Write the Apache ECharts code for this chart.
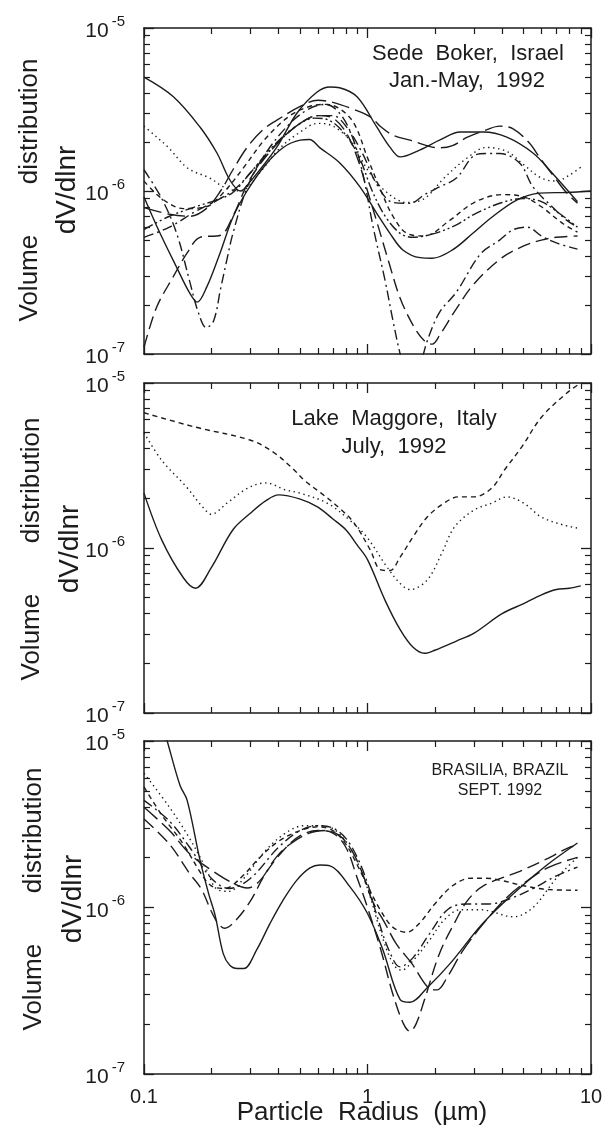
<!DOCTYPE html>
<html>
<head>
<meta charset="utf-8">
<script src="https://cdn.jsdelivr.net/npm/echarts@6/dist/echarts.min.js"></script>
<style>
  html, body { margin: 0; padding: 0; background: #fff; }
  #chart { width: 610px; height: 1132px; }
</style>
</head>
<body>
<div id="chart"></div>
<script>
// Volume size distributions dV/dlnr versus particle radius (um), three sites, 1992.

// ---- Sede Boker, Israel (Jan.-May 1992) ----
const sedeSolidA = [[0.1,5e-6],[0.135,3.8e-6],[0.178,2.47e-6],[0.212,1.71e-6],[0.242,1.17e-6],[0.27,1.0e-6],[0.3,1.15e-6],[0.393,1.86e-6],[0.483,3.0e-6],[0.595,4.05e-6],[0.68,4.35e-6],[0.75,4.3e-6],[0.9,3.77e-6],[1.1,2.47e-6],[1.26,1.86e-6],[1.4,1.62e-6],[1.72,1.79e-6],[2.1,2.05e-6],[2.6,2.3e-6],[3.3,2.3e-6],[4.2,2.14e-6],[5.5,1.71e-6],[6.7,1.29e-6],[8.7,8.6e-7]];
const sedeSolidB = [[0.1,9.2e-7],[0.118,5.5e-7],[0.14,3.4e-7],[0.16,2.37e-7],[0.173,2.08e-7],[0.191,2.58e-7],[0.219,4.17e-7],[0.25,6.9e-7],[0.289,1.0e-6],[0.35,1.45e-6],[0.42,1.85e-6],[0.5,2.05e-6],[0.55,2.07e-6],[0.613,1.84e-6],[0.75,1.49e-6],[0.925,1.06e-6],[1.1,7.3e-7],[1.26,5.5e-7],[1.44,4.35e-7],[1.72,3.9e-7],[1.95,3.87e-7],[2.4,4.35e-7],[2.96,5.5e-7],[3.6,6.9e-7],[4.65,8.8e-7],[5.9,9.7e-7],[7.8,9.8e-7],[10,1.0e-6]];
const sedeDotted = [[0.1,2.5e-6],[0.114,2.14e-6],[0.128,1.86e-6],[0.157,1.38e-6],[0.197,1.2e-6],[0.23,1.05e-6],[0.27,1.0e-6],[0.33,1.3e-6],[0.4,1.8e-6],[0.5,2.3e-6],[0.6,2.6e-6],[0.7,2.5e-6],[0.85,2.0e-6],[1.0,1.35e-6],[1.2,1.0e-6],[1.5,8.5e-7],[1.8,9e-7],[2.2,1.2e-6],[2.8,1.6e-6],[3.4,1.85e-6],[4.2,1.75e-6],[5.0,1.45e-6],[6.0,1.2e-6],[7.0,1.15e-6],[8.0,1.25e-6],[9.0,1.4e-6]];
const sedeDashDotDeep = [[0.1,1.35e-6],[0.12,9e-7],[0.14,5.5e-7],[0.16,2.8e-7],[0.175,1.8e-7],[0.19,1.45e-7],[0.205,1.6e-7],[0.22,2.5e-7],[0.235,3.8e-7],[0.25,5.5e-7],[0.29,1.06e-6],[0.35,1.7e-6],[0.45,2.6e-6],[0.55,3.2e-6],[0.65,3.4e-6],[0.75,3.0e-6],[0.85,2.2e-6],[0.95,1.3e-6],[1.06,6e-7],[1.2,2.8e-7],[1.3,1.6e-7],[1.4,1.0e-7],[1.55,6e-8],[1.7,8e-8],[1.85,1.2e-7],[2.1,1.8e-7],[2.5,2.4e-7],[3.2,4.1e-7],[3.9,5e-7],[4.5,5.8e-7],[5.2,6e-7],[6.0,5.3e-7],[7.0,4.8e-7],[8.7,4.4e-7]];
const sedeLongDashLow = [[0.1,1.1e-7],[0.114,1.94e-7],[0.135,2.97e-7],[0.156,4.17e-7],[0.178,5.2e-7],[0.22,5.35e-7],[0.25,7e-7],[0.3,1.2e-6],[0.4,2.0e-6],[0.5,2.6e-6],[0.6,2.9e-6],[0.7,2.8e-6],[0.8,2.3e-6],[0.9,1.6e-6],[1.0,1.0e-6],[1.1,6.5e-7],[1.25,3.6e-7],[1.4,2.2e-7],[1.6,1.5e-7],[1.8,1.2e-7],[1.95,1.15e-7],[2.1,1.3e-7],[2.5,1.9e-7],[3.0,2.7e-7],[4.0,3.9e-7],[5.0,4.6e-7],[6.0,5.0e-7],[7.0,5.2e-7],[8.7,5.3e-7]];
const sedeLongDashHigh = [[0.1,7.9e-7],[0.13,7.2e-7],[0.16,7e-7],[0.19,7.8e-7],[0.22,1.0e-6],[0.25,1.35e-6],[0.29,1.86e-6],[0.34,2.37e-6],[0.39,2.7e-6],[0.5,3.3e-6],[0.6,3.6e-6],[0.7,3.5e-6],[0.85,3.2e-6],[1.03,2.85e-6],[1.15,2.47e-6],[1.3,2.2e-6],[1.55,2.05e-6],[2.1,1.84e-6],[2.4,1.9e-6],[2.8,2.14e-6],[3.4,2.37e-6],[3.9,2.5e-6],[4.5,2.4e-6],[5.3,1.97e-6],[5.9,1.6e-6],[7.0,1.17e-6],[7.8,9.7e-7],[8.7,8.4e-7]];
const sedeDashDotHigh = [[0.1,5.2e-7],[0.13,6e-7],[0.17,7.5e-7],[0.22,9e-7],[0.26,1.05e-6],[0.3,1.3e-6],[0.4,2.0e-6],[0.5,2.6e-6],[0.6,2.9e-6],[0.7,2.9e-6],[0.8,2.5e-6],[0.95,1.7e-6],[1.1,1.1e-6],[1.3,8.5e-7],[1.55,8.4e-7],[1.8,9.5e-7],[2.1,1.06e-6],[2.5,1.2e-6],[3.0,1.65e-6],[3.4,1.7e-6],[3.9,1.7e-6],[4.8,1.48e-6],[5.5,1.06e-6],[6.7,8e-7],[7.8,6.6e-7],[8.7,6e-7]];
const sedeDashDotDot = [[0.1,5.8e-7],[0.13,7e-7],[0.17,8e-7],[0.21,8.8e-7],[0.25,9.8e-7],[0.3,1.3e-6],[0.38,1.9e-6],[0.48,2.5e-6],[0.58,2.8e-6],[0.68,2.7e-6],[0.8,2.2e-6],[0.92,1.6e-6],[1.05,1.0e-6],[1.2,7e-7],[1.4,5.5e-7],[1.6,5.2e-7],[2.0,5.5e-7],[2.5,6.2e-7],[3.0,7.2e-7],[4.0,8.5e-7],[5.0,9.0e-7],[6.0,8.6e-7],[7.2,7.3e-7],[8.7,6.0e-7]];
const sedeShortDash = [[0.1,1.15e-6],[0.12,9e-7],[0.15,7.8e-7],[0.19,8e-7],[0.23,1.0e-6],[0.28,1.4e-6],[0.35,2.1e-6],[0.45,2.9e-6],[0.55,3.3e-6],[0.65,3.4e-6],[0.75,3.2e-6],[0.87,2.6e-6],[1.0,1.6e-6],[1.15,1.0e-6],[1.3,7e-7],[1.5,5.5e-7],[1.8,5.3e-7],[2.3,6.5e-7],[3.0,8.5e-7],[4.0,9.5e-7],[5.0,9.2e-7],[6.0,8e-7],[7.5,6.3e-7],[8.7,5.6e-7]];

// ---- Lake Maggore, Italy (July 1992) ----
const maggoreSolid = [[0.1,2.15e-6],[0.12,1.12e-6],[0.15,6.6e-7],[0.17,5.7e-7],[0.2,7.6e-7],[0.25,1.29e-6],[0.3,1.63e-6],[0.35,1.93e-6],[0.4,2.1e-6],[0.5,1.98e-6],[0.6,1.77e-6],[0.7,1.5e-6],[0.8,1.29e-6],[0.9,1.04e-6],[1.0,8.5e-7],[1.2,4.8e-7],[1.4,3.2e-7],[1.6,2.5e-7],[1.8,2.3e-7],[2.0,2.4e-7],[2.5,2.73e-7],[3.0,3.05e-7],[4.0,4.0e-7],[5.0,4.6e-7],[6.0,5.2e-7],[7.0,5.6e-7],[8.0,5.7e-7],[9.0,5.9e-7]];
const maggoreDashed = [[0.1,6.6e-6],[0.17,5.4e-6],[0.3,4.5e-6],[0.38,3.8e-6],[0.47,2.97e-6],[0.52,2.58e-6],[0.62,2.15e-6],[0.74,1.77e-6],[0.87,1.42e-6],[1.03,9.7e-7],[1.14,7.4e-7],[1.26,7.3e-7],[1.4,8.8e-7],[1.6,1.17e-6],[1.85,1.54e-6],[2.2,1.87e-6],[2.55,2.04e-6],[3.0,2.04e-6],[3.6,2.31e-6],[4.1,2.97e-6],[4.9,4.1e-6],[6.0,6.2e-6],[7.8,8.7e-6],[9.0,1.0e-5]];
const maggoreDotted = [[0.1,5e-6],[0.12,3.4e-6],[0.155,2.34e-6],[0.183,1.77e-6],[0.2,1.6e-6],[0.235,1.87e-6],[0.29,2.3e-6],[0.35,2.48e-6],[0.43,2.25e-6],[0.5,2.15e-6],[0.66,1.87e-6],[0.83,1.48e-6],[0.99,1.17e-6],[1.22,7.7e-7],[1.4,6.1e-7],[1.55,5.6e-7],[1.85,6.4e-7],[2.15,9.3e-7],[2.45,1.34e-6],[3.0,1.7e-6],[3.6,1.87e-6],[4.2,2.04e-6],[5.0,1.87e-6],[6.0,1.54e-6],[7.5,1.38e-6],[8.7,1.32e-6]];

// ---- Brasilia, Brazil (Sept. 1992) ----
const brasiliaSolid = [[0.115,1.6e-5],[0.127,1.0e-5],[0.145,5.4e-6],[0.156,4.4e-6],[0.178,1.93e-6],[0.195,1.2e-6],[0.208,9e-7],[0.226,5.3e-7],[0.242,4.5e-7],[0.262,4.3e-7],[0.28,4.3e-7],[0.32,5.6e-7],[0.366,8e-7],[0.418,1.1e-6],[0.483,1.46e-6],[0.553,1.73e-6],[0.613,1.8e-6],[0.68,1.78e-6],[0.835,1.33e-6],[1.0,9.2e-7],[1.17,5.6e-7],[1.4,2.8e-7],[1.55,2.7e-7],[1.85,3.3e-7],[2.34,4.6e-7],[3.3,8.1e-7],[4.8,1.31e-6],[6.35,1.8e-6],[8.7,2.44e-6]];
const brasiliaShortDash = [[0.1,5.3e-6],[0.12,3.6e-6],[0.15,2.4e-6],[0.18,1.6e-6],[0.2,1.35e-6],[0.23,1.3e-6],[0.27,1.5e-6],[0.33,2.0e-6],[0.4,2.5e-6],[0.5,2.9e-6],[0.6,3.05e-6],[0.7,2.9e-6],[0.8,2.4e-6],[0.9,1.8e-6],[1.0,1.35e-6],[1.15,9.5e-7],[1.3,7.6e-7],[1.5,7.1e-7],[1.7,8e-7],[2.0,1.05e-6],[2.4,1.35e-6],[2.9,1.5e-6],[3.4,1.5e-6],[4.0,1.45e-6],[5.0,1.35e-6],[6.5,1.28e-6],[8.7,1.27e-6]];
const brasiliaDotted = [[0.1,6.4e-6],[0.13,4e-6],[0.16,2.6e-6],[0.19,1.7e-6],[0.21,1.3e-6],[0.24,1.25e-6],[0.28,1.5e-6],[0.35,2.2e-6],[0.43,2.8e-6],[0.52,3.1e-6],[0.62,3.1e-6],[0.72,2.9e-6],[0.85,2.2e-6],[1.0,1.3e-6],[1.15,7e-7],[1.3,4.6e-7],[1.42,4.2e-7],[1.6,4.8e-7],[1.9,6.4e-7],[2.2,8.4e-7],[2.6,9.7e-7],[3.2,9.7e-7],[4.5,8.8e-7],[5.5,1.0e-6],[7.0,1.5e-6],[8.7,2.0e-6]];
const brasiliaDashDot = [[0.1,4.4e-6],[0.13,3.3e-6],[0.16,2.3e-6],[0.2,1.5e-6],[0.24,1.3e-6],[0.3,1.5e-6],[0.4,2.3e-6],[0.5,2.9e-6],[0.6,3.1e-6],[0.7,3.0e-6],[0.8,2.6e-6],[0.9,2.0e-6],[1.0,1.4e-6],[1.1,9e-7],[1.25,5.5e-7],[1.4,4.4e-7],[1.6,5e-7],[1.9,7e-7],[2.3,9.8e-7],[2.8,1.05e-6],[3.5,1.05e-6],[4.5,1.15e-6],[5.5,1.3e-6],[7.0,1.55e-6],[8.7,1.75e-6]];
const brasiliaLongDashDeep = [[0.1,3.4e-6],[0.13,2.4e-6],[0.16,1.6e-6],[0.18,1.3e-6],[0.2,9.5e-7],[0.215,8e-7],[0.23,7.5e-7],[0.26,8.5e-7],[0.3,1.1e-6],[0.35,1.6e-6],[0.42,2.2e-6],[0.5,2.7e-6],[0.6,2.9e-6],[0.7,2.8e-6],[0.8,2.3e-6],[0.9,1.5e-6],[1.0,1.0e-6],[1.15,5.5e-7],[1.3,3e-7],[1.45,2e-7],[1.55,1.8e-7],[1.65,2.0e-7],[1.8,2.8e-7],[2.1,5.3e-7],[2.5,8.5e-7],[2.8,1.1e-6],[3.3,1.35e-6],[4.8,1.65e-6],[6.3,1.95e-6],[8.0,2.3e-6],[8.7,2.35e-6]];
const brasiliaLongDash = [[0.1,4.0e-6],[0.13,2.9e-6],[0.16,2.1e-6],[0.2,1.68e-6],[0.25,1.4e-6],[0.29,1.31e-6],[0.33,1.45e-6],[0.39,2.0e-6],[0.45,2.4e-6],[0.55,2.8e-6],[0.65,2.9e-6],[0.75,2.7e-6],[0.85,2.2e-6],[0.95,1.6e-6],[1.05,1.1e-6],[1.2,8e-7],[1.35,6e-7],[1.58,4.6e-7],[1.87,3.3e-7],[2.05,3.2e-7],[2.27,3.8e-7],[2.67,5.5e-7],[3.3,8e-7],[4.2,1.15e-6],[5.2,1.45e-6],[6.5,1.75e-6],[8.7,2.0e-6]];

// ---- axis ticks ----
const xMajorTicks = [0.1, 1, 10];
const xMinorTicks = [0.2,0.3,0.4,0.5,0.6,0.7,0.8,0.9,2,3,4,5,6,7,8,9];
const yMajorTicks = [1e-7, 1e-6, 1e-5];
const yMinorTicks = [2e-7,3e-7,4e-7,5e-7,6e-7,7e-7,8e-7,9e-7,2e-6,3e-6,4e-6,5e-6,6e-6,7e-6,8e-6,9e-6];

const FONT = '"Liberation Sans", Arial, Helvetica, sans-serif';
const INK = '#1c1c1c';

const SOLID = 'solid';
const DOT = [1.4, 3.6];
const SHORT = [5, 4];
const LONG = [13, 6];
const LONG2 = [18, 6];
const DASHDOT = [10, 4, 2, 4];
const DASHDOTDOT = [10, 3, 2, 3, 2, 3];

const panels = [
  {
    grid: { left: 144, top: 28, width: 447, height: 326 },
    lines: [
      [sedeSolidA, SOLID], [sedeSolidB, SOLID], [sedeDotted, DOT],
      [sedeDashDotDeep, DASHDOT], [sedeLongDashLow, LONG], [sedeLongDashHigh, LONG2],
      [sedeDashDotHigh, DASHDOT], [sedeDashDotDot, DASHDOTDOT], [sedeShortDash, SHORT]
    ],
    note: [['Sede  Boker,  Israel', 468, 54], ['Jan.-May,  1992', 467, 81]], noteSize: 22,
    title: { x1: 30, x2: 67, y: 190 }
  },
  {
    grid: { left: 144, top: 383, width: 447, height: 330 },
    lines: [[maggoreSolid, SOLID], [maggoreDashed, SHORT], [maggoreDotted, DOT]],
    note: [['Lake  Maggore,  Italy', 394, 419], ['July,  1992', 394, 447]], noteSize: 22,
    title: { x1: 32, x2: 70, y: 549 }
  },
  {
    grid: { left: 144, top: 741, width: 447, height: 333 },
    lines: [
      [brasiliaSolid, SOLID], [brasiliaShortDash, SHORT], [brasiliaDotted, DOT],
      [brasiliaDashDot, DASHDOT], [brasiliaLongDashDeep, LONG], [brasiliaLongDash, LONG2]
    ],
    note: [['BRASILIA, BRAZIL', 500, 771], ['SEPT. 1992', 500, 791]], noteSize: 16,
    title: { x1: 34, x2: 73, y: 899 }
  }
];

function yLabel(v) {
  const e = Math.round(Math.log10(v));
  return '{b|10}{s|' + e + '}';
}

const grids = [], xAxes = [], yAxes = [], series = [], graphics = [];

panels.forEach(function (p, i) {
  grids.push(p.grid);
  const xBase = { type: 'log', logBase: 10, min: 0.1, max: 10, gridIndex: i, splitLine: { show: false } };
  const yBase = { type: 'log', logBase: 10, min: 1e-7, max: 1e-5, gridIndex: i, splitLine: { show: false } };
  const frame = { show: true, lineStyle: { color: INK, width: 1.5 } };
  const xi = xAxes.length, yi = yAxes.length;

  // bottom and top edges: a major-tick axis followed by a minor-tick axis
  ['bottom', 'top'].forEach(function (pos) {
    xAxes.push(Object.assign({}, xBase, {
      position: pos, axisLine: frame,
      axisTick: { show: true, inside: true, length: 10, customValues: xMajorTicks, lineStyle: { color: INK, width: 1.3 } },
      axisLabel: (pos === 'bottom' && i === 2)
        ? { show: true, customValues: xMajorTicks, margin: 13, fontSize: 20, color: INK, fontFamily: FONT,
            formatter: function (v) { return v < 1 ? '0.1' : String(Math.round(v)); } }
        : { show: false }
    }));
    xAxes.push(Object.assign({}, xBase, {
      position: pos, axisLine: { show: false },
      axisTick: { show: true, inside: true, length: 6, customValues: xMinorTicks, lineStyle: { color: INK, width: 1.2 } },
      axisLabel: { show: false }
    }));
  });
  // left and right edges
  ['left', 'right'].forEach(function (pos) {
    yAxes.push(Object.assign({}, yBase, {
      position: pos, axisLine: frame,
      axisTick: { show: true, inside: true, length: 10, customValues: yMajorTicks, lineStyle: { color: INK, width: 1.3 } },
      axisLabel: pos === 'left'
        ? { show: true, customValues: yMajorTicks, margin: 19, formatter: yLabel, color: INK, fontFamily: FONT,
            rich: {
              b: { fontSize: 21, lineHeight: 28, verticalAlign: 'bottom', fontFamily: FONT, color: INK },
              s: { fontSize: 15, lineHeight: 15, verticalAlign: 'top', fontFamily: FONT, color: INK, padding: [0, 0, 0, 3] }
            } }
        : { show: false }
    }));
    yAxes.push(Object.assign({}, yBase, {
      position: pos, axisLine: { show: false },
      axisTick: { show: true, inside: true, length: 6, customValues: yMinorTicks, lineStyle: { color: INK, width: 1.2 } },
      axisLabel: { show: false }
    }));
  });

  p.lines.forEach(function (ln) {
    series.push({
      type: 'line', xAxisIndex: xi, yAxisIndex: yi, data: ln[0],
      showSymbol: false, smooth: 0.35, clip: true, silent: true,
      lineStyle: { color: INK, width: 1.4, type: ln[1] }
    });
  });

  p.note.forEach(function (n) {
    graphics.push({ type: 'text', x: n[1], y: n[2], silent: true,
      style: { text: n[0], fill: INK, font: p.noteSize + 'px ' + FONT, textAlign: 'center', textVerticalAlign: 'middle' } });
  });

  graphics.push({ type: 'text', x: p.title.x1, y: p.title.y, rotation: Math.PI / 2, silent: true,
    style: { text: 'Volume       distribution', fill: INK, font: '26px ' + FONT, textAlign: 'center', textVerticalAlign: 'middle' } });
  graphics.push({ type: 'text', x: p.title.x2, y: p.title.y, rotation: Math.PI / 2, silent: true,
    style: { text: 'dV/dlnr', fill: INK, font: '28px ' + FONT, textAlign: 'center', textVerticalAlign: 'middle' } });
});

graphics.push({ type: 'text', x: 362, y: 1113, silent: true,
  style: { text: 'Particle  Radius  (\u00b5m)', fill: INK, font: '26px ' + FONT, textAlign: 'center', textVerticalAlign: 'middle' } });

const chart = echarts.init(document.getElementById('chart'), null, { renderer: 'canvas' });
chart.setOption({
  backgroundColor: '#ffffff',
  animation: false,
  grid: grids,
  xAxis: xAxes,
  yAxis: yAxes,
  series: series,
  graphic: graphics
});
</script>
</body>
</html>
